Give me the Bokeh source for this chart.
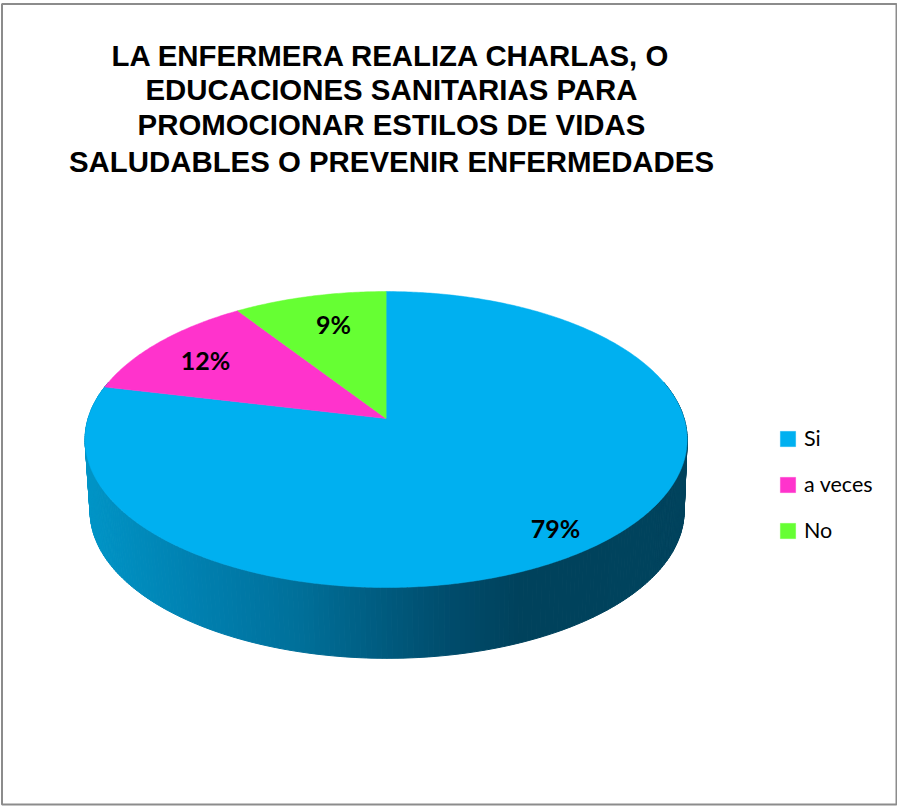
import numpy as np
from bokeh.core.properties import value
from bokeh.embed import file_html
from bokeh.models import Legend, LegendItem, Range1d
from bokeh.plotting import figure
from bokeh.resources import INLINE

# ---- data ----
TITLE_LINES = [
    "LA ENFERMERA REALIZA CHARLAS, O",
    "EDUCACIONES SANITARIAS PARA",
    "PROMOCIONAR ESTILOS DE VIDAS",
    "SALUDABLES O PREVENIR ENFERMEDADES",
]
CATEGORIES = ["Si", "a veces", "No"]
VALUES = [78.6, 12.0, 9.4]
PERCENT_LABELS = ["79%", "12%", "9%"]
COLORS = ["#00b0f0", "#ff33cc", "#66ff33"]

# ---- layout (page pixels) ----
W, H = 897, 806
CX, CY = 385.6, 418.0
A, B, K = 298.0, 145.0, 0.142
BOTTOM_CX, BOTTOM_CY, BOTTOM_A, BOTTOM_B = 386.6, 490.0, 294.0, 144.0
TITLE_X = 391
TITLE_BASE = [55, 89, 124, 161]
LABEL_X = [555, 205, 333]
LABEL_Y = [527, 359, 323]
SIDE_X = [85, 200, 300, 380, 450, 520, 690]
SIDE_R = [0, 0, 0, 0, 0, 0, 0]
SIDE_G = [150, 128, 112, 92, 76, 66, 68]
SIDE_B = [200, 176, 154, 128, 108, 92, 94]


def project(t, cx, cy, a, b):
    """Perspective view of a disc; t is clockwise from the top."""
    u, v = np.sin(t), np.cos(t)
    w = 1 + K * v
    return cx + a * u / w, cy - b * v / w


p = figure(width=W, height=H, x_range=Range1d(0, W), y_range=Range1d(H, 0),
           output_backend="svg", toolbar_location=None, min_border=0,
           outline_line_color=None, background_fill_color="white", border_fill_color="white")
p.axis.visible = False
p.grid.visible = False
p.styles = {"position": "absolute", "left": "0px", "top": "0px"}

# chart frame
p.quad(left=[1.5], right=[896], top=[3.5], bottom=[804], fill_color="white",
       line_color="#8c8c8c", line_width=2)

# rim of the pie: only the Si slice shows there
edges = np.radians(np.linspace(75, 285, 241))
xt, yt = project(edges, CX, CY, A, B)
xb, yb = project(edges, BOTTOM_CX, BOTTOM_CY, BOTTOM_A, BOTTOM_B)
xs, ys, cols = [], [], []
for i in range(len(edges) - 1):
    xs.append([xt[i], xt[i + 1], xb[i + 1], xb[i]])
    ys.append([yt[i], yt[i + 1], yb[i + 1], yb[i]])
    xm = (xb[i] + xb[i + 1]) / 2
    cols.append("#%02x%02x%02x" % (int(np.interp(xm, SIDE_X, SIDE_R)),
                                   int(np.interp(xm, SIDE_X, SIDE_G)),
                                   int(np.interp(xm, SIDE_X, SIDE_B))))
p.patches(xs, ys, fill_color=cols, line_color=cols, line_width=1)

# top face, clockwise from 12 o'clock
total = sum(VALUES)
start = 0.0
items = []
for name, val, col in zip(CATEGORIES, VALUES, COLORS):
    end = start + val / total * 2 * np.pi
    t = np.linspace(start, end, max(int(val * 6), 12))
    x, y = project(t, CX, CY, A, B)
    r = p.patch(np.r_[CX, x], np.r_[CY, y], fill_color=col, line_color=col, line_width=0.5)
    items.append(LegendItem(label=name, renderers=[r]))
    start = end

# percent labels
p.text(LABEL_X, LABEL_Y, text=PERCENT_LABELS, text_font=value("Lato"), text_font_style="bold",
       text_font_size="25px", text_align="center", text_baseline="middle", text_color="black")

# title
p.text([TITLE_X] * 4, TITLE_BASE, text=TITLE_LINES, text_font=value("Liberation Sans"),
       text_font_style="bold", text_font_size="29.4px", text_align="center",
       text_baseline="alphabetic", text_color="black")

legend = Legend(items=items, location=(778, 263), orientation="vertical",
                glyph_width=19, glyph_height=19, label_height=15, label_width=10, spacing=20,
                label_standoff=7, padding=0, margin=0, border_line_color=None,
                background_fill_alpha=0, label_text_font="Lato", label_text_font_size="21.5px",
                label_text_color="black")
p.add_layout(legend, "center")

open("out.html", "w").write(file_html(p, INLINE))
